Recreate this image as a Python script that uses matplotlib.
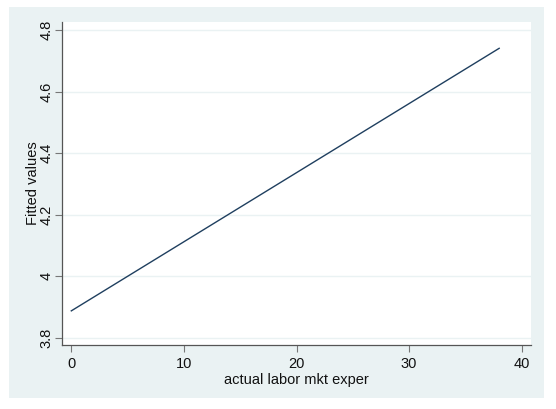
import matplotlib
matplotlib.use("Agg")
import matplotlib.pyplot as plt
from matplotlib.patches import Rectangle

exper = [0, 38]
fitted = [3.887, 4.7405]
x_ticks = [0, 10, 20, 30, 40]
y_ticks = [3.8, 4.0, 4.2, 4.4, 4.6, 4.8]
y_tick_labels = ["3.8", "4", "4.2", "4.4", "4.6", "4.8"]

plt.rcParams['font.family'] = ['Liberation Sans', 'DejaVu Sans']
W, H = 556, 409
fig = plt.figure(figsize=(W/100, H/100), dpi=100)
fig.patch.set_facecolor('white')
bg = '#EAF2F3'
fig.patches.append(Rectangle((9/W, 1-398.3/H), (544.3-9)/W, (398.3-7.3)/H,
                             transform=fig.transFigure, facecolor=bg, edgecolor='none', zorder=-10))

ax = fig.add_axes([62.3/W, 1-345/H, (530.7-62.3)/W, (345-21.7)/H])
ax.set_zorder(1)
ax.set_facecolor('white')
ax.plot(exper, fitted, color='#1f3f5f', lw=1.0, zorder=3)
ax.set_xlim(-0.8, 40.8)
ax.set_ylim(3.776, 4.827)
ax.set_xticks(x_ticks)
ax.set_yticks(y_ticks)
ax.set_yticklabels(y_tick_labels, rotation=90, va='center')
ax.grid(axis='y', color=bg, lw=1.0)
ax.set_axisbelow(True)
for s in ['top', 'right']:
    ax.spines[s].set_visible(False)
for s in ['left', 'bottom']:
    ax.spines[s].set_color('#555555')
    ax.spines[s].set_linewidth(0.9)
ax.tick_params(axis='both', length=5, width=0.8, color='#777777', labelsize=10.5, labelcolor='#111111')
ax.tick_params(axis='x', pad=4)
ax.tick_params(axis='y', pad=1)
ax.set_xlabel('actual labor mkt exper', fontsize=10.5, color='#111111', labelpad=1)
ax.set_ylabel('Fitted values', fontsize=10.5, color='#111111', labelpad=0)
fig.savefig('out.png', dpi=100)
